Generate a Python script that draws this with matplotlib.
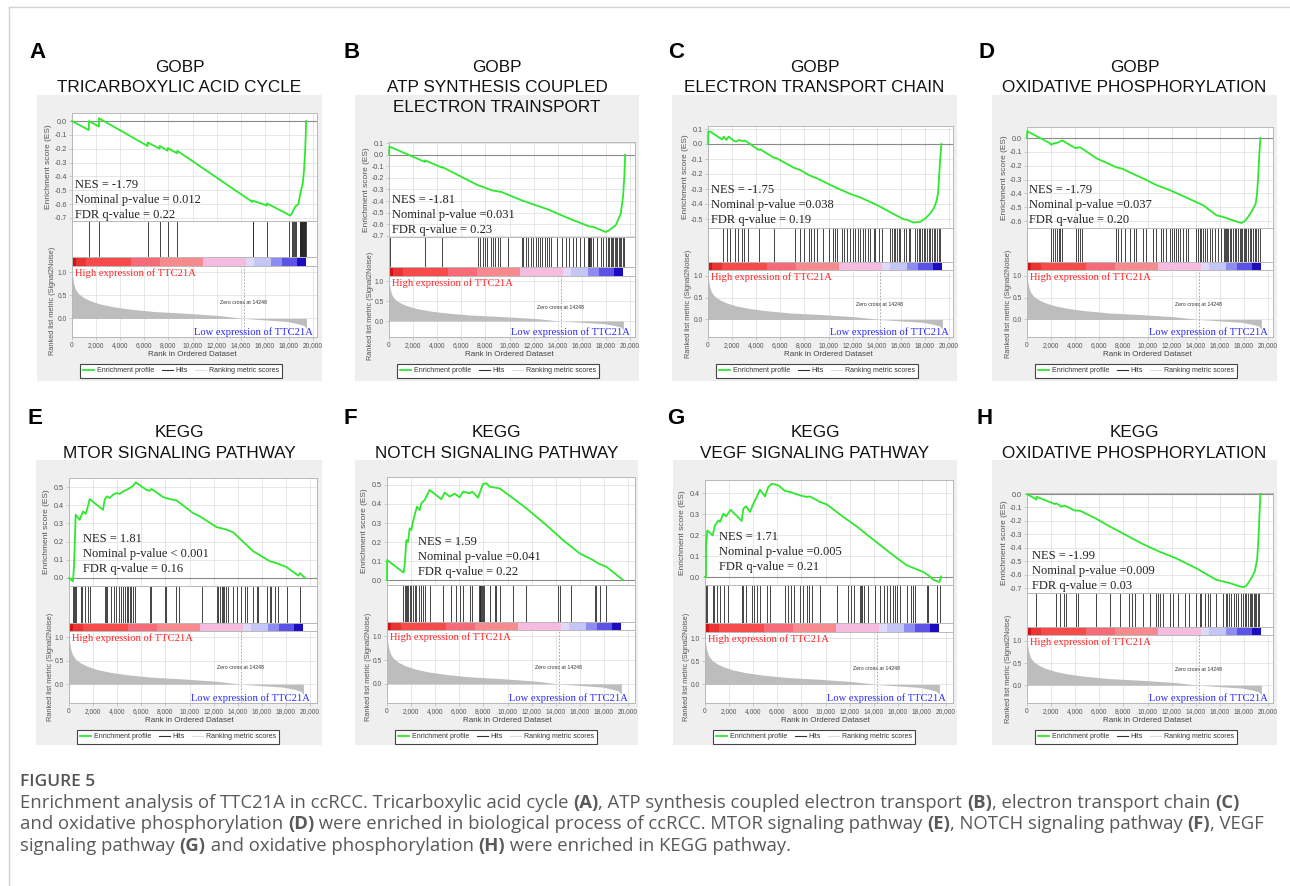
import matplotlib
matplotlib.use('Agg')
import matplotlib.pyplot as plt
from matplotlib.lines import Line2D
from matplotlib.patches import Rectangle
from matplotlib.ticker import MultipleLocator, FixedLocator, FuncFormatter

# ---------------------------------------------------------------- data
metric_rank = [0, 50, 140, 280, 550, 970, 1520, 2350, 3460, 4840, 6780, 9550, 12300, 14248, 16460, 17850, 18680, 19230, 19450]
metric_val = [1.08, 0.9, 0.75, 0.63, 0.53, 0.45, 0.38, 0.31, 0.25, 0.20, 0.15, 0.11, 0.06, 0.0, -0.04, -0.065, -0.11, -0.15, -0.22]
zero_cross = 14248

cb_edges = [0, 300, 1200, 4900, 7300, 10850, 14400, 15100, 16550, 17400, 18700, 19420]
cb_colors = ['#d41414', '#ea3434', '#f54b4b', '#f76a78', '#f78a8c', '#f6bce0', '#dedaf7', '#c6c6f6', '#8c8cf2', '#5c52e6', '#1c0cc0']

# Panel A - GOBP tricarboxylic acid cycle
es_rank_A = [0, 1390, 1411, 2230, 2241, 6270, 6280, 7265, 7276, 7930, 7939, 8730, 8741, 14980, 14994, 16170, 16183, 17950, 18100, 18230, 18370, 18510, 18790, 18930, 19150, 19260, 19340, 19396, 19424]
es_val_A = [0.0, -0.065, 0.0, -0.04, 0.02, -0.18, -0.155, -0.20, -0.18, -0.214, -0.195, -0.233, -0.215, -0.585, -0.575, -0.61, -0.595, -0.675, -0.683, -0.672, -0.645, -0.62, -0.6, -0.53, -0.45, -0.35, -0.23, -0.11, 0.0]
hits_A = [1420, 2260, 6300, 7280, 7960, 8730, 14990, 15060, 16200, 17980, 18260, 18330, 18420, 18500, 18580, 18880, 18920, 18960, 19000, 19040, 19080, 19120, 19160, 19200, 19240, 19280, 19320, 19360, 19400]

# Panel B - GOBP ATP synthesis coupled electron transport
es_rank_B = [0, 30, 2990, 3010, 4390, 4405, 7390, 7950, 8500, 9340, 11010, 13240, 14630, 16590, 17000, 17980, 18260, 18810, 19230, 19420, 19530, 19600]
es_val_B = [0.0, 0.07, -0.063, -0.049, -0.112, -0.106, -0.264, -0.284, -0.307, -0.322, -0.394, -0.474, -0.537, -0.618, -0.625, -0.667, -0.652, -0.61, -0.51, -0.365, -0.19, 0.0]
hits_B = [80, 3010, 4404, 7386, 7581, 7804, 7971, 8166, 8445, 8668, 8835, 9058, 9253, 9894, 11009, 11148, 11343, 11566, 11789, 11984, 12179, 12346, 12541, 12737, 12960, 13127, 13294, 13461, 13935, 14353, 14687, 14966, 15245, 15523, 15886, 16165, 16527, 16580, 16638, 16700, 16750, 16917, 17279, 17558, 17753, 18032, 18171, 18283, 18394, 18506, 18617, 18729, 18840, 18952, 19063, 19174, 19286, 19397, 19509]

# Panel C - GOBP electron transport chain
es_rank_C = [0, 20, 194, 1162, 1300, 1520, 1715, 2130, 2350, 2545, 2822, 3100, 4206, 4350, 5451, 5730, 7111, 7650, 8356, 9048, 10432, 11815, 12645, 14029, 15412, 16242, 16520, 17072, 17630, 18040, 18455, 18732, 18954, 19093, 19176, 19286, 19369]
es_val_C = [0.0, 0.082, 0.082, 0.031, 0.049, 0.027, 0.049, 0.022, 0.016, 0.027, 0.02, 0.022, -0.04, -0.036, -0.091, -0.096, -0.158, -0.173, -0.207, -0.229, -0.284, -0.333, -0.356, -0.407, -0.467, -0.502, -0.505, -0.524, -0.518, -0.496, -0.462, -0.429, -0.384, -0.329, -0.218, -0.084, 0.0]
hits_C = [20, 1245, 1577, 1799, 2269, 2463, 2822, 2961, 3293, 4206, 5506, 7250, 7609, 7997, 8356, 8550, 8771, 9048, 9546, 10017, 10376, 10570, 10708, 11123, 11317, 11538, 11815, 12036, 12230, 12424, 12645, 12867, 13060, 13254, 13476, 13752, 13890, 14167, 14444, 15080, 15274, 15412, 15551, 15689, 15827, 15966, 16242, 16464, 16657, 16796, 17211, 17349, 17488, 17626, 17764, 17903, 18041, 18179, 18318, 18456, 18594, 18733, 18871, 19009, 19148, 19286]

# Panel D - GOBP oxidative phosphorylation
es_rank_D = [0, 20, 1882, 2020, 2158, 2380, 2573, 2933, 3542, 4040, 4372, 4649, 5755, 7416, 7969, 8522, 9629, 10736, 11843, 13226, 14610, 15717, 16270, 17100, 17792, 18069, 18345, 18622, 18982, 19093, 19203, 19286, 19369]
es_val_D = [0.0, 0.049, -0.036, -0.049, -0.041, -0.036, -0.032, -0.017, -0.049, -0.073, -0.066, -0.08, -0.146, -0.211, -0.223, -0.248, -0.291, -0.34, -0.376, -0.43, -0.485, -0.558, -0.57, -0.595, -0.614, -0.6, -0.57, -0.534, -0.473, -0.40, -0.255, -0.109, 0.0]
hits_D = [20, 2020, 2158, 2297, 2490, 2656, 2767, 2933, 4040, 4234, 4372, 4566, 7360, 7554, 7831, 8107, 8522, 8854, 9076, 9629, 9906, 10459, 10736, 11151, 11289, 11566, 11843, 12036, 12175, 12341, 12535, 12673, 12950, 13171, 13365, 14056, 14195, 14333, 14471, 14610, 14748, 14942, 15163, 15384, 15578, 15855, 16131, 16325, 16408, 16491, 16602, 16685, 16823, 16962, 17100, 17238, 17377, 17515, 17653, 17792, 17875, 17986, 18096, 18207, 18345, 18484, 18622, 18761, 18899, 19037, 19176, 19314]

# Panel E - KEGG MTOR signaling pathway
es_rank_E = [0, 332, 416, 554, 886, 1163, 1385, 1579, 1717, 2825, 2964, 3158, 3380, 3656, 3933, 4210, 4487, 4764, 5041, 5318, 5540, 6426, 6703, 6842, 7811, 8365, 8919, 10304, 10858, 12243, 13074, 13628, 15290, 16675, 17091, 18060, 19030, 19168, 19584]
es_val_E = [0.0, -0.018, 0.064, 0.348, 0.32, 0.366, 0.353, 0.397, 0.434, 0.375, 0.432, 0.449, 0.44, 0.458, 0.467, 0.463, 0.476, 0.485, 0.494, 0.507, 0.526, 0.485, 0.48, 0.49, 0.445, 0.434, 0.427, 0.357, 0.339, 0.28, 0.266, 0.251, 0.147, 0.092, 0.085, 0.06, 0.013, 0.027, 0.0]
hits_E = [332, 416, 471, 554, 970, 1108, 1302, 1579, 1717, 2964, 3047, 3158, 3518, 3740, 3933, 4155, 4349, 4487, 4626, 4820, 4903, 5041, 5180, 5318, 5457, 6703, 6842, 7950, 8088, 8919, 9141, 10997, 12243, 12382, 12520, 12659, 12742, 12853, 13019, 13213, 13628, 13905, 14238, 14598, 14736, 15290, 15567, 15706, 16398, 16675, 16731, 17091, 17368, 18060, 19168]

# Panel F - KEGG NOTCH signaling pathway
es_rank_F = [0, 10, 1383, 1467, 1605, 1743, 1882, 2020, 2158, 2297, 2490, 2712, 2850, 3127, 3542, 4510, 4787, 5202, 5617, 6032, 6309, 6862, 7084, 7554, 7831, 7969, 8246, 8522, 9352, 10459, 11566, 13226, 14610, 15994, 17100, 17515, 18207, 19590]
es_val_F = [0.0, 0.105, 0.039, 0.079, 0.21, 0.2, 0.272, 0.263, 0.307, 0.342, 0.386, 0.368, 0.404, 0.421, 0.474, 0.425, 0.46, 0.439, 0.454, 0.435, 0.465, 0.456, 0.465, 0.433, 0.482, 0.505, 0.509, 0.491, 0.482, 0.43, 0.377, 0.289, 0.21, 0.14, 0.105, 0.088, 0.07, 0.0]
hits_F = [1328, 1467, 1550, 1660, 1771, 1882, 2020, 2158, 2297, 2435, 2656, 2850, 2988, 3127, 3542, 4649, 5340, 5755, 6032, 6309, 6862, 7084, 7637, 7692, 7748, 7831, 7886, 7969, 8052, 8522, 8937, 9076, 9408, 10459, 11566, 14195, 14333, 15302, 17238, 17377, 17653, 18207]

# Panel G - KEGG VEGF signaling pathway
es_rank_G = [0, 83, 90, 194, 636, 830, 1107, 1245, 1522, 1743, 1937, 2130, 3044, 3182, 3403, 3735, 4012, 4289, 4566, 4981, 5257, 5534, 6087, 6641, 7056, 7886, 8439, 8716, 9546, 10100, 11483, 12590, 13697, 15634, 16740, 18124, 18540, 18954, 19452, 19590]
es_val_G = [0.0, 0.0, 0.151, 0.222, 0.198, 0.246, 0.27, 0.262, 0.302, 0.289, 0.305, 0.32, 0.267, 0.325, 0.337, 0.31, 0.349, 0.381, 0.416, 0.384, 0.429, 0.444, 0.437, 0.41, 0.405, 0.389, 0.381, 0.384, 0.357, 0.346, 0.286, 0.241, 0.19, 0.103, 0.056, 0.024, 0.008, -0.013, -0.024, 0.003]
hits_G = [83, 194, 636, 775, 1024, 1245, 1577, 1937, 3044, 3182, 3403, 3874, 4067, 4289, 4566, 5174, 5396, 6641, 6918, 7111, 7388, 7886, 8163, 8439, 8661, 8854, 9546, 10985, 11898, 12092, 12368, 12867, 12950, 13060, 13199, 13558, 14112, 14527, 14859, 15080, 15357, 15634, 15772, 15966, 16187, 16740, 17072, 17294, 17432, 18401, 18540, 19231, 19508]

# Panel H - KEGG oxidative phosphorylation
es_rank_H = [0, 775, 790, 2297, 2435, 2850, 3127, 3542, 3957, 4372, 5755, 6862, 8245, 9629, 11013, 12396, 14056, 15717, 16823, 17653, 17986, 18207, 18622, 18899, 19093, 19203, 19286, 19369]
es_val_H = [0.0, -0.04, -0.02, -0.074, -0.069, -0.093, -0.086, -0.103, -0.123, -0.123, -0.184, -0.241, -0.307, -0.373, -0.43, -0.479, -0.553, -0.639, -0.663, -0.688, -0.693, -0.683, -0.627, -0.577, -0.491, -0.344, -0.172, 0.0]
hits_H = [775, 2380, 2767, 3044, 3265, 4095, 4234, 5755, 6862, 7692, 8467, 8744, 8937, 9629, 10183, 10681, 10874, 11013, 11289, 11843, 12120, 12535, 13088, 13448, 14056, 14333, 14471, 14748, 15025, 15163, 15717, 16270, 16491, 16602, 16768, 16962, 17155, 17377, 17515, 17792, 17930, 18069, 18207, 18345, 18484, 18622, 18705, 18816, 18927, 19037, 19148, 19258]

panel_keys = ['A', 'B', 'C', 'D', 'E', 'F', 'G', 'H']
collections = ['GOBP', 'GOBP', 'GOBP', 'GOBP', 'KEGG', 'KEGG', 'KEGG', 'KEGG']
titles = [['TRICARBOXYLIC ACID CYCLE'], ['ATP SYNTHESIS COUPLED', 'ELECTRON TRAINSPORT'],
          ['ELECTRON TRANSPORT CHAIN'], ['OXIDATIVE PHOSPHORYLATION'],
          ['MTOR SIGNALING PATHWAY'], ['NOTCH SIGNALING PATHWAY'],
          ['VEGF SIGNALING PATHWAY'], ['OXIDATIVE PHOSPHORYLATION']]
nes_texts = [
    ['NES = -1.79', 'Nominal p-value = 0.012', 'FDR q-value = 0.22'],
    ['NES = -1.81', 'Nominal p-value =0.031', 'FDR q-value = 0.23'],
    ['NES = -1.75', 'Nominal p-value =0.038', 'FDR q-value = 0.19'],
    ['NES = -1.79', 'Nominal p-value =0.037', 'FDR q-value = 0.20'],
    ['NES = 1.81', 'Nominal p-value < 0.001', 'FDR q-value = 0.16'],
    ['NES = 1.59', 'Nominal p-value =0.041', 'FDR q-value = 0.22'],
    ['NES = 1.71', 'Nominal p-value =0.005', 'FDR q-value = 0.21'],
    ['NES = -1.99', 'Nominal p-value =0.009', 'FDR q-value = 0.03'],
]
es_data = {'A': (es_rank_A, es_val_A, hits_A), 'B': (es_rank_B, es_val_B, hits_B),
           'C': (es_rank_C, es_val_C, hits_C), 'D': (es_rank_D, es_val_D, hits_D),
           'E': (es_rank_E, es_val_E, hits_E), 'F': (es_rank_F, es_val_F, hits_F),
           'G': (es_rank_G, es_val_G, hits_G), 'H': (es_rank_H, es_val_H, hits_H)}
x_ticks = list(range(0, 20001, 2000))

caption_title = 'FIGURE 5'
caption_lines = [
    [('Enrichment analysis of TTC21A in ccRCC. Tricarboxylic acid cycle ', 0), ('(A)', 1),
     (', ATP synthesis coupled electron transport ', 0), ('(B)', 1), (', electron transport chain ', 0), ('(C)', 1)],
    [('and oxidative phosphorylation ', 0), ('(D)', 1), (' were enriched in biological process of ccRCC. MTOR signaling pathway ', 0),
     ('(E)', 1), (', NOTCH signaling pathway ', 0), ('(F)', 1), (', VEGF', 0)],
    [('signaling pathway ', 0), ('(G)', 1), (' and oxidative phosphorylation ', 0), ('(H)', 1), (' were enriched in KEGG pathway.', 0)],
]

# ---------------------------------------------------------------- layout
W, H = 1290, 886
fig = plt.figure(figsize=(W / 100, H / 100), dpi=100)
fig.patch.set_facecolor('white')

SANS = ['Liberation Sans', 'DejaVu Sans']
SERIF = ['Liberation Serif', 'DejaVu Serif']
CAP = ['Open Sans', 'DejaVu Sans']
PX20K = 241.0  # pixels between rank 0 and 20,000


def add_ax(l, t, r, b):
    return fig.add_axes([l / W, 1 - b / H, (r - l) / W, (b - t) / H], zorder=2)


def ftext(x, y, s, **kw):
    return fig.text(x / W, 1 - y / H, s, **kw)


layout = {
    'A': dict(box=(37, 95, 322, 381), L=72, R=317, es=(113, 221), hb=257, cb=266, rk=337, tys=(68, 87), nes=(75, 185), lim=(-0.722, 0.058), let=(37, 52)),
    'B': dict(box=(355, 95, 639, 381), L=389, R=635, es=(142, 237), hb=267, cb=276, rk=337, tys=(67, 87, 107), nes=(392, 200), lim=(-0.71, 0.109), let=(352, 52)),
    'C': dict(box=(672, 95, 957, 381), L=708, R=953, es=(126, 228), hb=262, cb=270, rk=337, tys=(67, 87), nes=(711, 190), lim=(-0.56, 0.12), let=(676, 52)),
    'D': dict(box=(992, 95, 1277, 381), L=1027, R=1273, es=(127, 228), hb=262, cb=270, rk=337, tys=(67, 87), nes=(1029, 190), lim=(-0.65, 0.08), let=(987, 52)),
    'E': dict(box=(36, 460, 322, 745), L=69, R=317, es=(478, 586), hb=623, cb=631, rk=703, tys=(433, 453), nes=(83, 539), lim=(-0.044, 0.55), let=(35, 418)),
    'F': dict(box=(355, 460, 638, 745), L=387, R=635, es=(477, 585), hb=622, cb=630, rk=703, tys=(433, 453), nes=(418, 542), lim=(-0.026, 0.542), let=(350, 418)),
    'G': dict(box=(673, 460, 957, 745), L=705, R=953, es=(480, 585), hb=623, cb=632, rk=703, tys=(433, 453), nes=(719, 537), lim=(-0.038, 0.462), let=(676, 418)),
    'H': dict(box=(992, 460, 1277, 745), L=1027, R=1273, es=(493, 593), hb=627, cb=635, rk=703, tys=(433, 453), nes=(1032, 556), lim=(-0.737, 0.008), let=(985, 418)),
}

GRID = '#e2e2e2'
SPINE = '#b8b8b8'
TICKC = '#555555'
GREEN = '#2ee82e'


def style_spines(ax):
    for s in ax.spines.values():
        s.set_color(SPINE)
        s.set_linewidth(0.7)


def fmt1(v, pos=None):
    if abs(v) < 1e-9:
        v = 0.0
    return '%.1f' % v


for i, key in enumerate(panel_keys):
    lay = layout[key]
    L, R = lay['L'], lay['R']
    xmax = 20000.0 * (R - L) / PX20K
    bl, bt, br, bb = lay['box']
    fig.patches.append(Rectangle((bl / W, 1 - bb / H), (br - bl) / W, (bb - bt) / H,
                                 transform=fig.transFigure, facecolor='#efefef', edgecolor='none', zorder=-5))
    # letter and title
    ftext(lay['let'][0], lay['let'][1], key, fontsize=16, fontweight='bold', family=SANS, ha='center', va='center', zorder=5)
    cx = (bl + br) / 2
    lines = [collections[i]] + titles[i]
    for ty, line in zip(lay['tys'], lines):
        ftext(cx, ty, line, fontsize=12.3, family=SANS, ha='center', va='center', color='#111111', zorder=5)

    rk_es, val_es, hits = es_data[key]
    et, eb = lay['es']

    # enrichment score panel
    ax = add_ax(L, et, R, eb)
    ax.set_facecolor('white')
    ax.set_xlim(0, xmax)
    ax.set_ylim(*lay['lim'])
    ax.xaxis.set_major_locator(FixedLocator(x_ticks))
    ax.yaxis.set_major_locator(MultipleLocator(0.1))
    ax.yaxis.set_major_formatter(FuncFormatter(fmt1))
    ax.tick_params(axis='x', length=0, labelbottom=False)
    ax.tick_params(axis='y', length=2, width=0.5, color=SPINE, labelsize=5.2, labelcolor=TICKC, pad=1.5)
    for t in ax.get_yticklabels():
        t.set_family(SANS)
    ax.grid(True, color=GRID, lw=0.6)
    ax.set_axisbelow(True)
    ax.axhline(0, color='#8a8a8a', lw=0.8, zorder=1)
    ax.plot(rk_es, val_es, color=GREEN, lw=1.3, zorder=3, clip_on=False)
    style_spines(ax)
    ftext(L - 23, (et + eb) / 2, 'Enrichment score (ES)', rotation=90, fontsize=6,
          color=TICKC, family=SANS, ha='center', va='center', zorder=5)
    nx, ny = lay['nes']
    for j, s in enumerate(nes_texts[i]):
        ftext(nx, ny + j * 15, s, fontsize=9, family=SERIF, color='#222222', ha='left', va='center', zorder=6)

    # hits panel
    axh = add_ax(L, eb, R, lay['hb'])
    axh.set_xlim(0, xmax)
    axh.set_ylim(0, 1)
    axh.vlines(hits, 0, 1, color='#262626', lw=0.6)
    axh.set_xticks([])
    axh.set_yticks([])
    style_spines(axh)

    # colour bar panel
    axc = add_ax(L, lay['hb'], R, lay['cb'])
    axc.set_xlim(0, xmax)
    axc.set_ylim(0, 1)
    for k in range(len(cb_colors)):
        axc.axvspan(cb_edges[k], cb_edges[k + 1], color=cb_colors[k], lw=0)
    axc.set_xticks([])
    axc.set_yticks([])
    style_spines(axc)

    # ranked list metric panel
    axr = add_ax(L, lay['cb'], R, lay['rk'])
    axr.set_xlim(0, xmax)
    axr.set_ylim(-0.40, 1.13)
    axr.fill_between(metric_rank, 0, metric_val, color='#bdbdbd', lw=0, zorder=2)
    axr.axvline(zero_cross, color='#9a9a9a', lw=0.6, ls=(0, (2, 2)), zorder=3)
    axr.text(zero_cross, 0.35, 'Zero cross at %d' % zero_cross, fontsize=3.8, color='#333333',
             family=SANS, ha='center', va='center')
    axr.xaxis.set_major_locator(FixedLocator(x_ticks))
    axr.xaxis.set_major_formatter(FuncFormatter(lambda v, p: '{:,}'.format(int(v))))
    axr.yaxis.set_major_locator(FixedLocator([0.0, 0.5, 1.0]))
    axr.yaxis.set_major_formatter(FuncFormatter(fmt1))
    axr.tick_params(length=2, width=0.5, color=SPINE, labelsize=4.8, labelcolor=TICKC, pad=1.5)
    for t in axr.get_xticklabels() + axr.get_yticklabels():
        t.set_family(SANS)
    axr.grid(True, color=GRID, lw=0.6)
    axr.set_axisbelow(True)
    style_spines(axr)
    ftext(L + 3, lay['cb'] + 7, 'High expression of TTC21A', fontsize=7.6, family=SERIF,
          color='#ff2424', ha='left', va='center', zorder=6)
    ftext(L + PX20K, lay['rk'] - 5, 'Low expression of TTC21A', fontsize=7.6, family=SERIF,
          color='#2a2aff', ha='right', va='center', zorder=6)
    ftext(L - 19, (lay['hb'] + lay['rk']) / 2 + 4, 'Ranked list metric (Signal2Noise)', rotation=90,
          fontsize=5.3, color=TICKC, family=SANS, ha='center', va='center', zorder=5)
    ftext(L + PX20K / 2, lay['rk'] + 18, 'Rank in Ordered Dataset', fontsize=5.8, color='#444444',
          family=SANS, ha='center', va='center', zorder=5)

    # legend
    handles = [Line2D([], [], color=GREEN, lw=1.3), Line2D([], [], color='#333333', lw=0.8),
               Line2D([], [], color='#dddddd', lw=0.8)]
    leg = fig.legend(handles, ['Enrichment profile', 'Hits', 'Ranking metric scores'], loc='center',
                     bbox_to_anchor=((L + 109) / W, 1 - (lay['rk'] + 34) / H), ncol=3,
                     prop={'family': SANS, 'size': 5.0}, frameon=True, fancybox=False,
                     edgecolor='#444444', framealpha=1, handlelength=1.6, handletextpad=0.35,
                     columnspacing=1.1, borderpad=0.5, borderaxespad=0)
    leg.get_frame().set_linewidth(0.8)
    leg.set_zorder(5)
    for t in leg.get_texts():
        t.set_color('#333333')

# ---------------------------------------------------------------- frame + caption
fig.add_artist(Line2D([9 / W, 9 / W], [1 - 7 / H, 0], color='#d2d2d2', lw=1.0))
fig.add_artist(Line2D([9 / W, 1.0], [1 - 7 / H, 1 - 7 / H], color='#d2d2d2', lw=1.0))

ftext(20, 782, caption_title, fontsize=12.5, family=CAP, color='#555555', ha='left', va='center', fontweight='semibold')

renderer = fig.canvas.get_renderer()


def adv(s, size, bold):
    """Advance width in pixels of string s (trailing spaces included)."""
    w = fig.text(0, 0, s + 'x', fontsize=size, family=CAP, fontweight='bold' if bold else 'normal')
    x = fig.text(0, 0, 'x', fontsize=size, family=CAP, fontweight='bold' if bold else 'normal')
    res = w.get_window_extent(renderer).width - x.get_window_extent(renderer).width
    w.remove()
    x.remove()
    return res


base = 11.0
w2 = sum(adv(s, base, b) for s, b in caption_lines[1])
cap_size = base * 1245.0 / w2

for pieces, yy in zip(caption_lines, [808, 829, 851]):
    xx = 20.0
    for s, b in pieces:
        ftext(xx, yy, s, fontsize=cap_size, family=CAP, color='#5a5a5a',
              fontweight='bold' if b else 'normal', ha='left', va='baseline')
        xx += adv(s, cap_size, b)

fig.savefig('out.png', dpi=100, facecolor='white')
